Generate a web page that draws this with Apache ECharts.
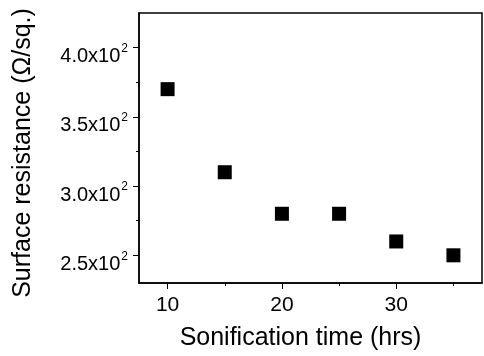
<!DOCTYPE html>
<html>
<head>
<meta charset="utf-8">
<script src="https://cdn.jsdelivr.net/npm/echarts@6/dist/echarts.min.js"></script>
<style>
  html, body { margin: 0; padding: 0; background: #fff; }
  #chart { width: 484px; height: 356px; }
</style>
</head>
<body>
<div id="chart"></div>
<script>
// values
var hours = [10, 15, 20, 25, 30, 35];
var resistance = [370, 310, 280, 280, 260, 250];
var xMajor = [10, 20, 30];
var xMinor = [15, 25, 35];
var yMajor = [250, 300, 350, 400];
var yMinor = [275, 325, 375];

var font = 'Liberation Sans';
var chart = echarts.init(document.getElementById('chart'));

// y labels like 4.0x10^2
function sciLabel(v) {
    return '{a|' + (v / 100).toFixed(1) + 'x10}{s|2}';
}

var axisLine = { show: true, onZero: false, lineStyle: { color: '#000', width: 1.5 } };

var option = {
    animation: false,
    grid: { left: 139, right: 2, top: 13, bottom: 67, show: true, borderColor: '#000', borderWidth: 1.5 },
    xAxis: [{
        type: 'value', min: 7.5, max: 37.5,
        name: 'Sonification time (hrs)', nameLocation: 'middle', nameGap: 43,
        nameTextStyle: { fontFamily: font, fontSize: 25, color: '#000', padding: [0, 20, 0, 0] },
        axisLine: axisLine,
        axisTick: { show: true, length: 6, customValues: xMajor, lineStyle: { color: '#000' } },
        axisLabel: { customValues: xMajor, fontFamily: font, fontSize: 21, color: '#000', margin: 12 },
        splitLine: { show: false }
    }, {
        type: 'value', min: 7.5, max: 37.5, position: 'bottom',
        axisLine: { show: false },
        axisTick: { show: true, length: 3, customValues: xMinor, lineStyle: { color: '#000' } },
        axisLabel: { show: false },
        splitLine: { show: false }
    }],
    yAxis: [{
        type: 'value', min: 230, max: 425,
        name: 'Surface resistance (\u03A9/sq.)', nameLocation: 'middle', nameGap: 103,
        nameTextStyle: { fontFamily: font, fontSize: 25, color: '#000', padding: [0, 10, 0, 0] },
        axisLine: axisLine,
        axisTick: { show: true, length: 6, customValues: yMajor, lineStyle: { color: '#000' } },
        axisLabel: {
            customValues: yMajor, formatter: sciLabel, margin: 11, padding: [14, 0, 0, 0],
            rich: {
                a: { fontFamily: font, fontSize: 20, color: '#000', lineHeight: 24, verticalAlign: 'bottom' },
                s: { fontFamily: font, fontSize: 12, color: '#000', lineHeight: 24, verticalAlign: 'top', padding: [0, 0, 10, 1] }
            }
        },
        splitLine: { show: false }
    }, {
        type: 'value', min: 230, max: 425, position: 'left',
        axisLine: { show: false },
        axisTick: { show: true, length: 3, customValues: yMinor, lineStyle: { color: '#000' } },
        axisLabel: { show: false },
        splitLine: { show: false }
    }],
    series: [{
        type: 'scatter',
        data: hours.map(function (h, i) { return [h, resistance[i]]; }),
        symbol: 'rect', symbolSize: 14,
        itemStyle: { color: '#000', opacity: 1 }
    }]
};
chart.setOption(option);
</script>
</body>
</html>
